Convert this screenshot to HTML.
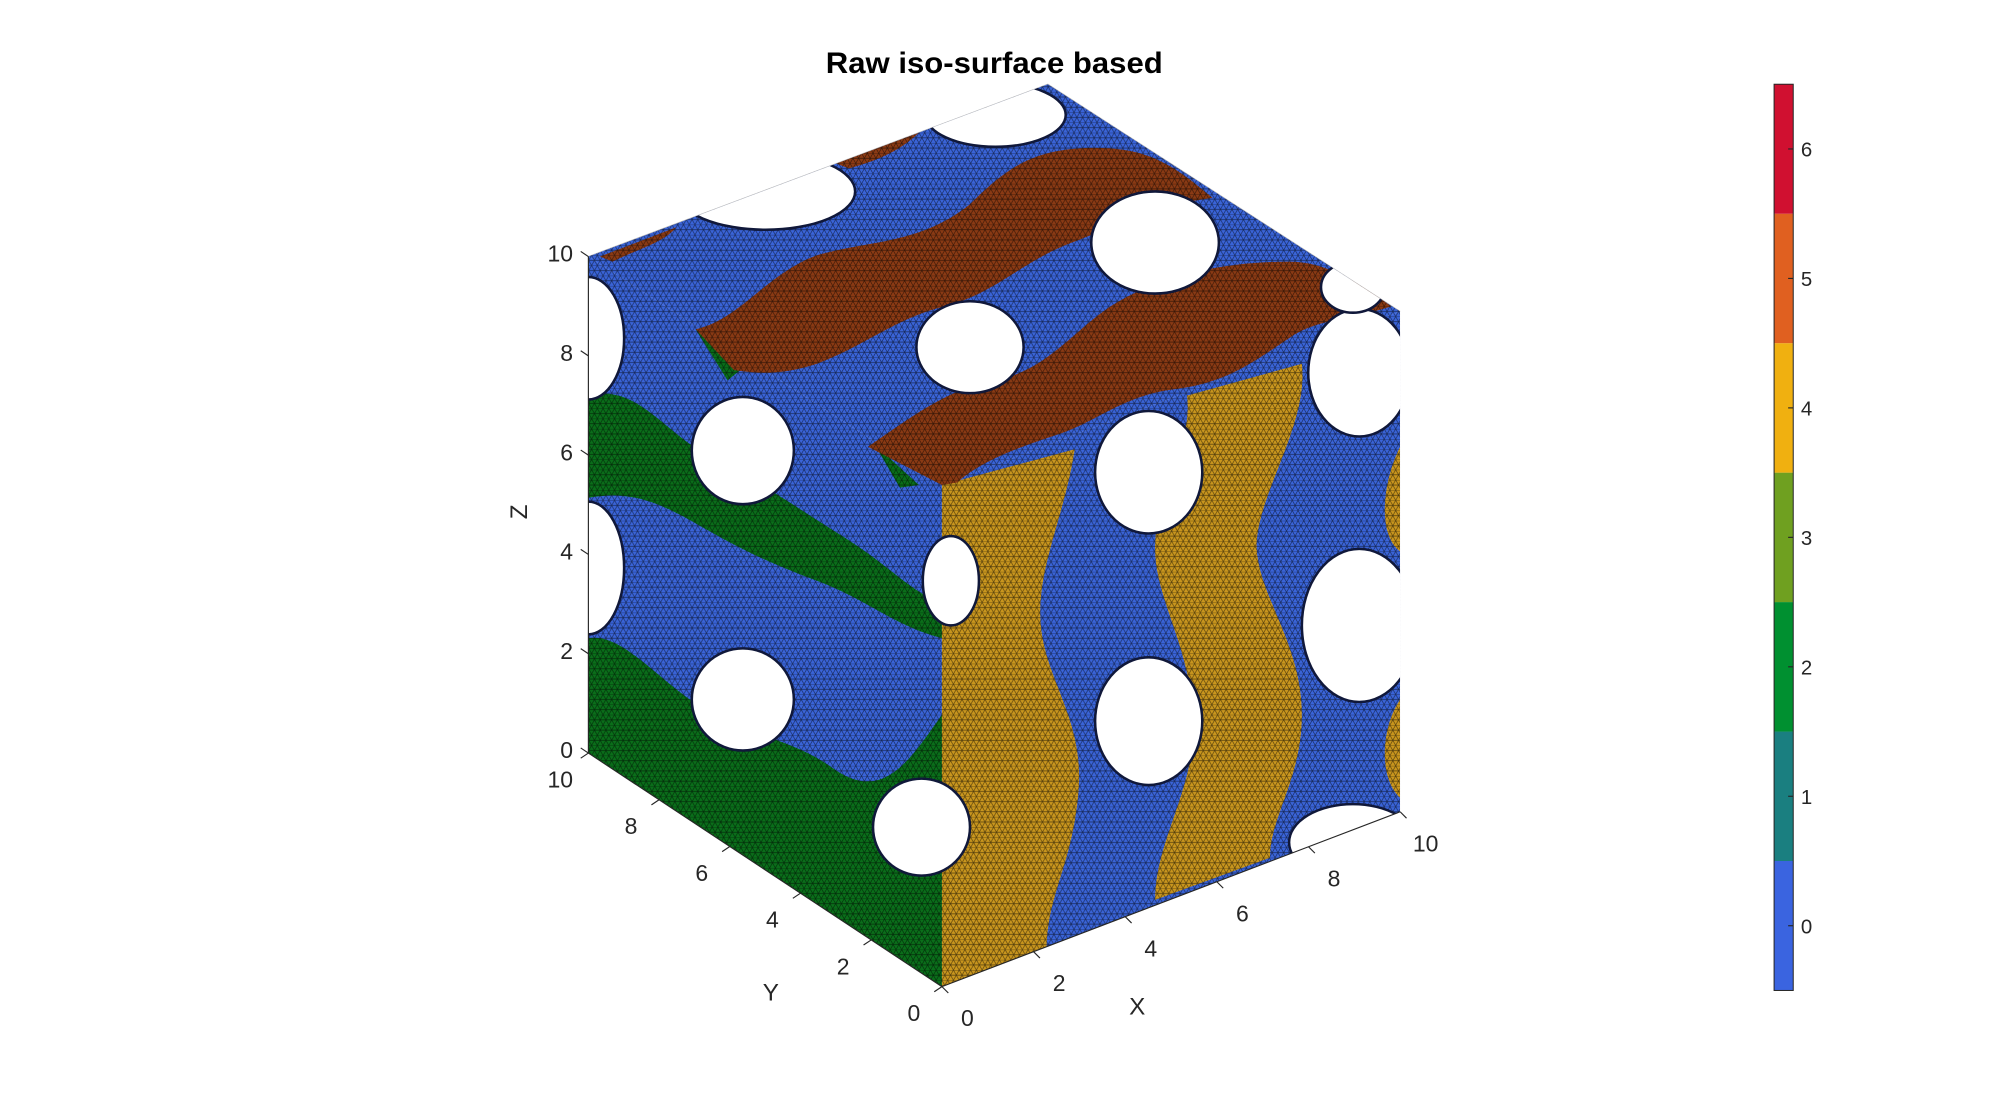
<!DOCTYPE html>
<html><head><meta charset="utf-8"><style>html,body{margin:0;padding:0;background:#fff}svg{display:block}text{font-family:"Liberation Sans",sans-serif;fill:#262626}</style></head>
<body>
<svg id="fig" width="2000" height="1113" viewBox="0 0 1567 872" preserveAspectRatio="none" xmlns="http://www.w3.org/2000/svg">
<defs>
<pattern id="mesh" width="9" height="8" patternUnits="userSpaceOnUse">
<path d="M0 0L9 0M0 4L9 4M0 0L4.5 8M4.5 0L9 8M4.5 0L0 8M9 0L4.5 8" stroke="#000" stroke-width="0.5" stroke-opacity="0.6" fill="none"/>
</pattern>
<clipPath id="cubeclip"><polygon points="461,201 821,66 1097,244 1097,636 738,773 461,590"/></clipPath>
</defs>
<text x="779" y="57" text-anchor="middle" font-size="23" font-weight="bold" textLength="264" lengthAdjust="spacingAndGlyphs" style="fill:#000">Raw iso-surface based</text>
<g id="backaxes" stroke="#bbb" stroke-width="0.8" fill="none">
<path d="M461,201 L821,66 L1097,244 M821,66 L821,455 M461,590 L821,455 L1097,636"/>
</g>
<g clip-path="url(#cubeclip)">
<polygon points="461,201 738,380 738,773 461,590" fill="#3a64d8"/>
<polygon points="738,380 1097,244 1097,636 738,773" fill="#3a64d8"/>
<polygon points="461,201 821,66 1097,244 738,380" fill="#3a64d8"/>
<path fill="#0a6e1a" d="M461,310 C500,300 520,340 560,360 C600,380 620,395 660,420 C700,445 720,470 738,470 L738,500 C700,490 680,470 640,455 C600,440 580,430 545,410 C510,390 490,385 461,390 Z"/>
<path fill="#0a6e1a" d="M461,500 C490,495 520,540 560,560 C600,580 620,580 650,600 C690,630 710,600 738,560 L738,773 L461,590 Z"/>
<path fill="#0a6e1a" d="M545,258 L580,290 L570,298 Z M685,348 L720,380 L705,382 Z"/>
<path fill="#c9961e" d="M738,380 L842,352 C835,400 815,440 815,480 C815,530 850,560 845,620 C840,680 820,700 820,745 L738,773 Z"/>
<path fill="#c9961e" d="M930,310 L1020,285 C1025,330 990,380 985,420 C980,460 1020,500 1020,560 C1020,610 995,640 995,672 L905,705 C905,660 935,620 935,570 C935,510 905,470 905,430 C905,380 935,350 930,310 Z"/>
<path fill="#c9961e" d="M1097,350 L1097,432 C1080,420 1082,380 1097,350 Z M1097,548 L1097,625 C1080,610 1082,570 1097,548 Z"/>
<path fill="#8a3a14" d="M545,258 C580,250 600,215 640,200 C680,188 720,192 760,160 C790,130 810,118 850,116 C900,114 920,130 950,155 C910,160 880,175 840,190 C800,205 780,230 740,240 C700,250 680,270 640,285 C610,295 590,292 575,290 Z"/>
<path fill="#8a3a14" d="M680,350 C710,330 740,305 780,298 C820,290 840,260 870,240 C910,215 960,205 1010,205 C1040,205 1065,222 1090,240 C1060,250 1030,250 1010,265 C980,285 960,300 920,305 C880,310 860,330 830,340 C800,350 770,360 750,378 L738,380 Z"/>
<path fill="#8a3a14" d="M470,201 L530,178 C520,190 500,195 480,205 Z M655,128 L720,104 C705,118 690,125 665,132 Z"/>
<rect x="400" y="50" width="720" height="740" fill="url(#mesh)"/>
<g fill="#fff" stroke="#10183a" stroke-width="2">
<ellipse cx="582" cy="353" rx="40" ry="42"/>
<ellipse cx="582" cy="548" rx="40" ry="40"/>
<ellipse cx="722" cy="648" rx="38" ry="38"/>
<ellipse cx="745" cy="455" rx="22" ry="35"/>
<ellipse cx="461" cy="265" rx="28" ry="48"/>
<ellipse cx="461" cy="445" rx="28" ry="52"/>
<ellipse cx="900" cy="370" rx="42" ry="48"/>
<ellipse cx="900" cy="565" rx="42" ry="50"/>
<ellipse cx="1065" cy="292" rx="40" ry="50"/>
<ellipse cx="1065" cy="490" rx="45" ry="60"/>
<ellipse cx="1060" cy="660" rx="50" ry="30"/>
<ellipse cx="760" cy="272" rx="42" ry="36"/>
<ellipse cx="905" cy="190" rx="50" ry="40"/>
<ellipse cx="600" cy="150" rx="70" ry="30"/>
<ellipse cx="780" cy="90" rx="55" ry="25"/>
<ellipse cx="1060" cy="225" rx="25" ry="20"/>
</g>
</g>
<g id="axes"></g>
<g id="cbar"></g>
<script>
var xTicks=[0,2,4,6,8,10];
var yTicks=[0,2,4,6,8,10];
var zTicks=[0,2,4,6,8,10];
var cbarLevels=[0,1,2,3,4,5,6];
var cbarColors=["#3a64e0","#1a7f80","#009030","#6fa020","#f0b010","#e06020","#d01030"];
var NS="http://www.w3.org/2000/svg";
function P(x,y,z){return [738+35.9*x-27.7*y, 773-13.7*x-18.3*y-38.9*z];}
var ax=document.getElementById('axes');
function line(g,x1,y1,x2,y2,c){var l=document.createElementNS(NS,'line');l.setAttribute('x1',x1);l.setAttribute('y1',y1);l.setAttribute('x2',x2);l.setAttribute('y2',y2);l.setAttribute('stroke',c);l.setAttribute('stroke-width','0.9');g.appendChild(l);return l;}
function txt(g,x,y,s,sz,anchor){var t=document.createElementNS(NS,'text');t.setAttribute('x',x);t.setAttribute('y',y);t.setAttribute('font-size',sz);t.setAttribute('text-anchor',anchor||'middle');t.textContent=s;g.appendChild(t);return t;}
var a=P(0,0,0),b=P(10,0,0),c=P(0,10,0),d=P(0,10,10);
var l1=line(ax,a[0],a[1],b[0],b[1],'#262626');

var l2=line(ax,a[0],a[1],c[0],c[1],'#262626');

var l3=line(ax,c[0],c[1],d[0],d[1],'#262626');

xTicks.forEach(function(v){var p=P(v,0,0);line(ax,p[0],p[1],p[0]+5,p[1]+5,'#262626');var t=txt(ax,p[0]+20,p[1]+31,String(v),18);

});
yTicks.forEach(function(v){var p=P(0,v,0);line(ax,p[0],p[1],p[0]-6,p[1]+4,'#262626');var t=txt(ax,p[0]-22,p[1]+27,String(v),18);

});
zTicks.forEach(function(v){var p=P(0,10,v);line(ax,p[0],p[1],p[0]-6,p[1]-4,'#262626');var t=txt(ax,p[0]-12,p[1]+4,String(v),18,'end');

});
var xl=txt(ax,891,795,'X',19);


var yl=txt(ax,604,784,'Y',19);


var zl=txt(ax,0,0,'Z',19);zl.setAttribute('transform','translate(413,401) rotate(-90)');


var cb=document.getElementById('cbar');
var cTop=66,cBot=776,cX=1390,cW=15;
var lo=cbarLevels[0]-0.5,hi=cbarLevels[cbarLevels.length-1]+0.5;
function cy(v){return cBot-(v-lo)/(hi-lo)*(cBot-cTop);}
cbarLevels.forEach(function(v,i){var r=document.createElementNS(NS,'rect');r.setAttribute('x',cX);r.setAttribute('y',cy(v+0.5));r.setAttribute('width',cW);r.setAttribute('height',cy(v-0.5)-cy(v+0.5));r.setAttribute('fill',cbarColors[i]);


cb.appendChild(r);
line(cb,cX+cW-4,cy(v),cX+cW,cy(v),'#262626');
var t=txt(cb,cX+cW+6,cy(v)+6,String(v),16,'start');

});
var fr=document.createElementNS(NS,'rect');fr.setAttribute('x',cX);fr.setAttribute('y',cTop);fr.setAttribute('width',cW);fr.setAttribute('height',cBot-cTop);fr.setAttribute('fill','none');fr.setAttribute('stroke','#262626');fr.setAttribute('stroke-width','0.8');


cb.appendChild(fr);
</script>
</svg>
</body></html>
